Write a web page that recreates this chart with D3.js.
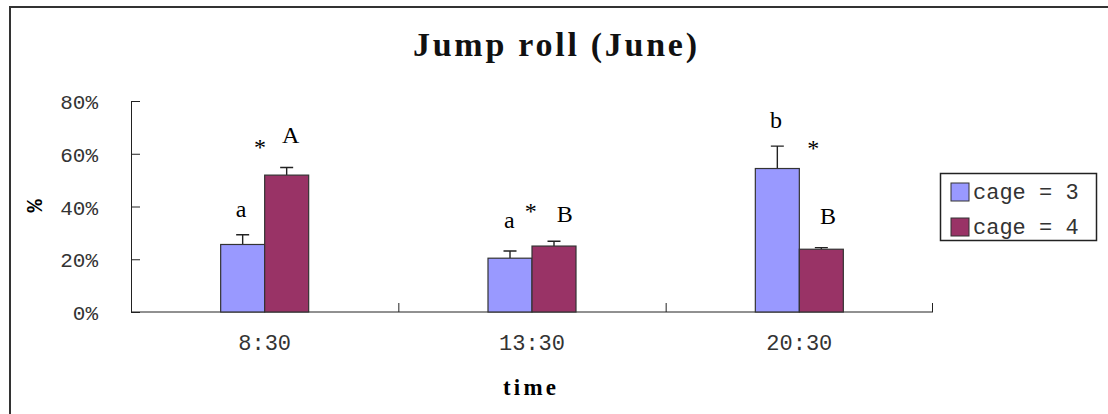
<!DOCTYPE html>
<html>
<head>
<meta charset="utf-8">
<script src="https://cdn.jsdelivr.net/npm/d3@7"></script>
<style>
  html, body { margin: 0; padding: 0; background: #fff; }
  svg { display: block; }
</style>
</head>
<body>
<div id="chart"></div>
<script>
(function jumpRoll(){

  //data
  var categories = ['8:30', '13:30', '20:30'];
  var seriesNames = ['cage = 3', 'cage = 4'];
  var cage3 = [25.6, 20.4, 54.4];
  var cage3Err = [3.7, 2.7, 8.5];
  var cage4 = [51.9, 25.0, 23.8];
  var cage4Err = [2.9, 1.8, 0.6];
  var yTicks = [0, 20, 40, 60, 80];
  //letters above bars: category, offset from group centre, value height
  var labelText = ['a', '*', 'A', 'a', '*', 'B', 'b', '*', 'B'];
  var labelCat = ['8:30', '8:30', '8:30', '13:30', '13:30', '13:30', '20:30', '20:30', '20:30'];
  var labelDx = [-23.7, -4.7, 26, -22.7, -1.3, 32.7, -23.3, 14, 28.7];
  var labelVal = [36.1, 59.5, 63.9, 32, 35.1, 34.3, 69.8, 59.1, 33.4];

  var colors = ['#9999ff', '#993366'];

  var W = 1108, H = 414;
  var plot = {left: 131, right: 933, top: 101, bottom: 312};

  var x = d3.scaleBand().domain(categories).range([plot.left, plot.right]);
  var x1 = d3.scaleBand().domain(seriesNames).range([-44, 44]);
  var y = d3.scaleLinear().domain([0, 80]).range([plot.bottom, plot.top]);

  var svg = d3.select('#chart').append('svg')
      .attr('width', W)
      .attr('height', H);

  svg.append('rect').attr('width', W).attr('height', H).attr('fill', '#fff');

  //outer frame (runs off the right / bottom edge)
  svg.append('rect')
      .attr('x', 10).attr('y', 7)
      .attr('width', W + 20).attr('height', H + 20)
      .attr('fill', 'none')
      .attr('stroke', '#333')
      .attr('stroke-width', 2);

  //title
  svg.append('text')
      .attr('x', 413).attr('y', 56)
      .attr('textLength', 284)
      .attr('lengthAdjust', 'spacing')
      .style('font-family', '"Liberation Serif", serif')
      .style('font-weight', 'bold')
      .style('font-size', '34px')
      .attr('fill', '#111')
      .text('Jump roll (June)');

  //y axis
  var yAxis = d3.axisLeft(y)
      .tickValues(yTicks)
      .tickSize(-9)
      .tickPadding(33)
      .tickFormat(function(d){ return d + '%'; });

  var gy = svg.append('g')
      .attr('transform', 'translate(' + plot.left + ',0)')
      .call(yAxis);
  gy.select('.domain').attr('stroke', '#222');
  gy.selectAll('.tick line').attr('stroke', '#222');
  gy.selectAll('text')
      .style('font-family', '"Liberation Mono", monospace')
      .style('font-size', '21px')
      .attr('fill', '#333')
      .attr('dy', '0.36em');

  //y label
  svg.append('text')
      .attr('transform', 'translate(42,206) rotate(-90)')
      .attr('text-anchor', 'middle')
      .style('font-family', '"Liberation Mono", monospace')
      .style('font-weight', 'bold')
      .style('font-size', '22px')
      .attr('fill', '#000')
      .text('%');

  //x axis
  var gx = svg.append('g')
      .attr('transform', 'translate(0,' + plot.bottom + ')');
  gx.append('line')
      .attr('x1', plot.left).attr('x2', plot.right)
      .attr('stroke', '#222');
  gx.selectAll('.sep')
      .data(categories.slice(1))
      .enter()
      .append('line')
      .attr('x1', function(d){ return x(d) + 0.5; })
      .attr('x2', function(d){ return x(d) + 0.5; })
      .attr('y1', 0).attr('y2', -9)
      .attr('stroke', '#222');
  gx.append('line')
      .attr('x1', plot.right - 0.5).attr('x2', plot.right - 0.5)
      .attr('y1', 0).attr('y2', -9)
      .attr('stroke', '#222');
  gx.selectAll('.cat')
      .data(categories)
      .enter()
      .append('text')
      .attr('x', function(d){ return x(d) + x.bandwidth() / 2; })
      .attr('y', 38)
      .attr('text-anchor', 'middle')
      .style('font-family', '"Liberation Mono", monospace')
      .style('font-size', '22px')
      .attr('fill', '#333')
      .text(function(d){ return d; });

  svg.append('text')
      .attr('x', 503).attr('y', 395)
      .attr('textLength', 53)
      .attr('lengthAdjust', 'spacing')
      .style('font-family', '"Liberation Serif", serif')
      .style('font-weight', 'bold')
      .style('font-size', '23px')
      .attr('fill', '#000')
      .text('time');

  //bars
  var series = [
    {name: seriesNames[0], values: cage3, err: cage3Err, color: colors[0]},
    {name: seriesNames[1], values: cage4, err: cage4Err, color: colors[1]}
  ];

  series.forEach(function(s){
    var rows = categories.map(function(c, i){ return {cat: c, v: s.values[i], e: s.err[i]}; });
    var cx = function(d){ return x(d.cat) + x.bandwidth() / 2 + x1(s.name); };

    //error bars (upper only)
    svg.selectAll(null)
        .data(rows)
        .enter()
        .append('path')
        .attr('d', function(d){
          var mx = cx(d) + x1.bandwidth() / 2;
          return 'M' + mx + ',' + y(d.v) + 'V' + y(d.v + d.e) +
                 'M' + (mx - 6.5) + ',' + y(d.v + d.e) + 'H' + (mx + 6.5);
        })
        .attr('stroke', '#222')
        .attr('stroke-width', 1.4)
        .attr('fill', 'none');

    svg.selectAll(null)
        .data(rows)
        .enter()
        .append('rect')
        .attr('x', cx)
        .attr('y', function(d){ return y(d.v); })
        .attr('width', x1.bandwidth())
        .attr('height', function(d){ return y(0) - y(d.v); })
        .attr('fill', s.color)
        .attr('stroke', '#333')
        .attr('stroke-width', 1.2);
  });

  //significance letters
  svg.selectAll('.sig')
      .data(labelText)
      .enter()
      .append('text')
      .attr('x', function(d, i){ return x(labelCat[i]) + x.bandwidth() / 2 + labelDx[i]; })
      .attr('y', function(d, i){ return y(labelVal[i]); })
      .attr('text-anchor', 'middle')
      .style('font-family', '"Liberation Serif", "Times New Roman", serif')
      .style('font-size', '24px')
      .attr('fill', '#000')
      .text(function(d){ return d; });

  //legend
  var lg = svg.append('g').attr('transform', 'translate(940,173)');
  lg.append('rect')
      .attr('x', 0.5).attr('y', 0.5)
      .attr('width', 156).attr('height', 67)
      .attr('fill', '#fff')
      .attr('stroke', '#222')
      .attr('stroke-width', 1.5);
  var item = lg.selectAll('.item')
      .data(series)
      .enter()
      .append('g')
      .attr('transform', function(d, i){ return 'translate(0,' + (i * 35) + ')'; });
  item.append('rect')
      .attr('x', 11).attr('y', 10)
      .attr('width', 18).attr('height', 18)
      .attr('fill', function(d){ return d.color; })
      .attr('stroke', '#333');
  item.append('text')
      .attr('x', 33).attr('y', 26)
      .style('font-family', '"Liberation Mono", monospace')
      .style('font-size', '22px')
      .attr('fill', '#333')
      .text(function(d){ return d.name; });

})();
</script>
</body>
</html>
